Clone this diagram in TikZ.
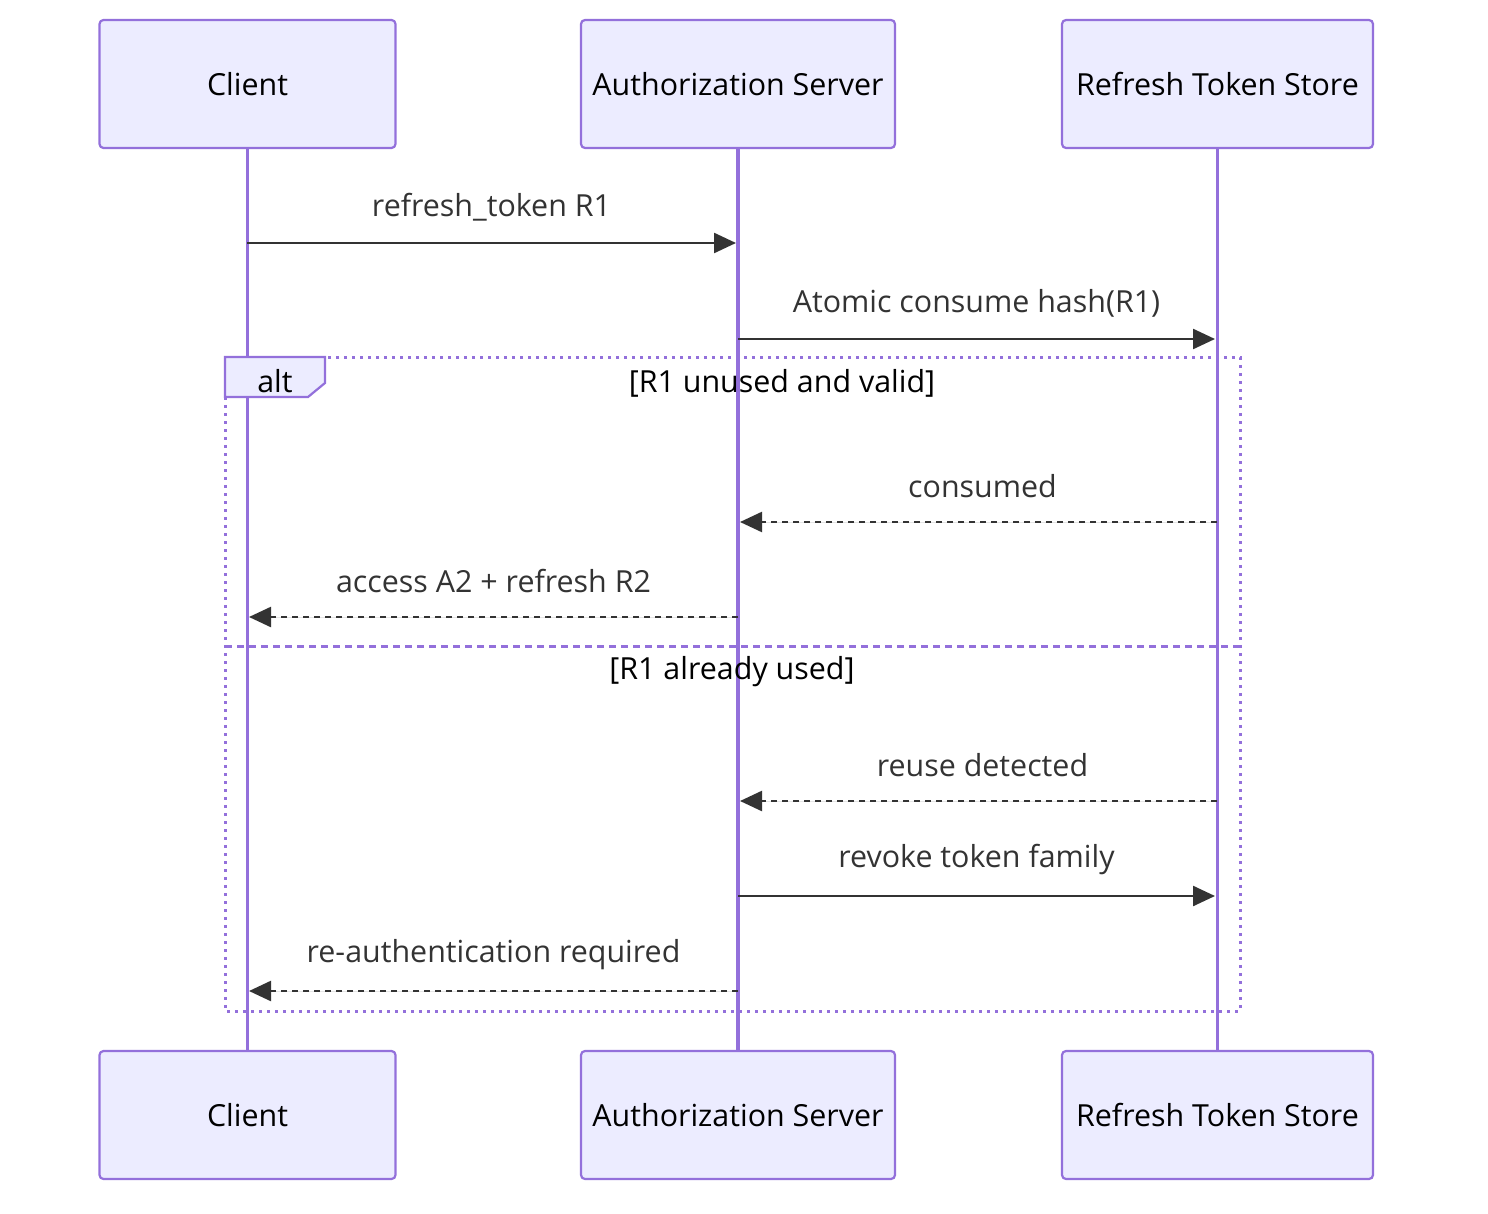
\documentclass[tikz,border=0pt]{standalone}
\usepackage{fontspec}
\setmainfont{Open Sans}
\usepackage{tikz}
\usetikzlibrary{arrows.meta,positioning}
\definecolor{cActor}{HTML}{ECECFF}
\definecolor{cLine}{HTML}{9370DB}
\definecolor{cMsg}{HTML}{333333}

\begin{document}
\begin{tikzpicture}[
  x=0.5pt, y=-0.5pt,
  font=\fontsize{15.2}{18}\selectfont,
  actor/.style={rectangle, rounded corners=2pt, draw=cLine, line width=1.1pt,
    fill=cActor, align=center, minimum width=148pt, minimum height=64pt, inner sep=0pt},
  life/.style={draw=cLine, line width=1.6pt},
  msg/.style={-{Triangle[length=11pt,width=10pt]}, line width=1.2pt, draw=cMsg, fill=cMsg},
  reply/.style={msg, dash pattern=on 3pt off 2.5pt},
  lbl/.style={text=cMsg, midway, yshift=18pt},
  frame/.style={draw=cLine, line width=1.5pt, dash pattern=on 1.5pt off 2.5pt},
  divider/.style={draw=cLine, line width=1.5pt, dash pattern=on 3.5pt off 2.5pt},
]
\useasboundingbox (0,0) rectangle (1488,1214);
\node[actor] (client) at (247.5,84) {Client};
\node[actor, minimum width=157pt] (authsrv) at (738,84) {Authorization Server};
\node[actor, minimum width=155.5pt] (store) at (1217.5,84) {Refresh Token Store};
\node[actor] (clientB) at (247.5,1115) {Client};
\node[actor, minimum width=157pt] (authsrvB) at (738,1115) {Authorization Server};
\node[actor, minimum width=155.5pt] (storeB) at (1217.5,1115) {Refresh Token Store};
\draw[life] (client) -- (clientB);
\draw[life] (authsrv) -- (authsrvB);
\draw[life] (store) -- (storeB);

\coordinate (c1) at (247,243); \coordinate (a1) at (736,243);
\coordinate (a2) at (738,339); \coordinate (s2) at (1215,339);
\coordinate (s4) at (1217,522); \coordinate (a4) at (740,522);
\coordinate (a5) at (738,617); \coordinate (c5) at (249,617);
\coordinate (s7) at (1217,801); \coordinate (a7) at (740,801);
\coordinate (a8) at (738,896); \coordinate (s8) at (1215,896);
\coordinate (a9) at (738,991); \coordinate (c9) at (249,991);

\draw[msg] (c1) -- node[lbl] (l1) {refresh\_token R1} (a1);
\draw[msg] (a2) -- node[lbl] (l2) {Atomic consume hash(R1)} (s2);

\coordinate (altNW) at (225,357);
\coordinate (altSE) at (1240,1011);
\draw[frame] (altNW) rectangle (altSE);
\draw[draw=cLine, line width=1.1pt, fill=cActor] (altNW) -- (325,357) -- (325,383)
  -- (308,397) -- (225,397) -- cycle;
\node (alt) at (275,381) {alt};
\node (cond1) at (782,383) {[R1 unused and valid]};

\draw[reply] (s4) -- node[lbl, xshift=2pt] (l4) {consumed} (a4);
\draw[reply] (a5) -- node[lbl] (l5) {access A2 + refresh R2} (c5);

\coordinate (divL) at (225,646);
\coordinate (divR) at (1240,646);
\draw[divider] (divL) -- (divR);
\node (cond2) at (732,672) {[R1 already used]};

\draw[reply] (s7) -- node[lbl, xshift=2pt] (l7) {reuse detected} (a7);
\draw[msg] (a8) -- node[lbl] (l8) {revoke token family} (s8);
\draw[reply] (a9) -- node[lbl] (l9) {re-authentication required} (c9);
\end{tikzpicture}
\end{document}
